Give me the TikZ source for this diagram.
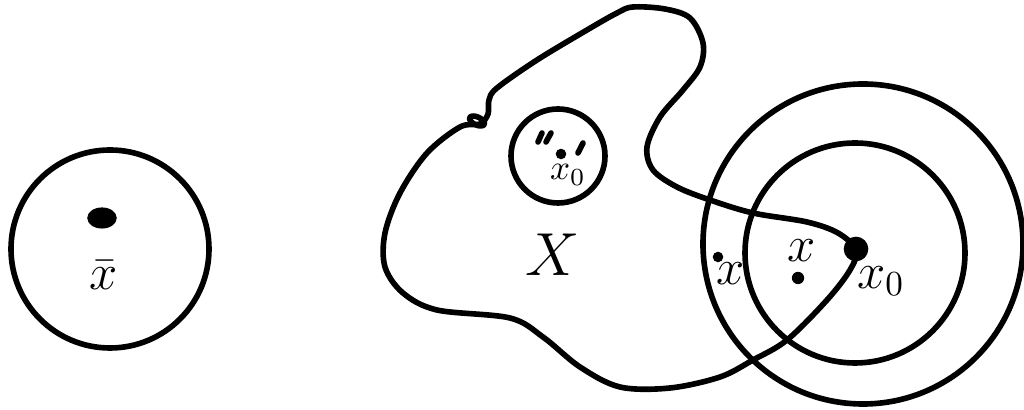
\documentclass[tikz,border=0pt]{standalone}
\usepackage{amsmath}
\usepackage{tikz}
\usetikzlibrary{positioning}
\tikzset{
  trazo/.style={line width=1.6pt, line cap=round, line join=round},
  punto/.style={circle, fill, inner sep=0pt, minimum size=#1},
  etiqueta/.style={font=\Large, inner sep=1pt},
}

\begin{document}
\begin{tikzpicture}[x=0.01cm, y=-0.01cm]
        \useasboundingbox (0,0) rectangle (1024,410);
        % bola sola
        \draw[trazo] (110,249) circle (99);
        \node[punto=6pt, xscale=1.4] (xbar) at (102,218) {};
        \node[etiqueta] (lxbar) at (104,275) {$\bar{x}$};
        % conjunto X
        \draw[trazo] plot[smooth cycle, tension=0.55] coordinates {
          (633,7) (665,9) (690,18) (703,43) (700,67) (683,90) (660,117) (647,147)
          (653,170) (677,187) (710,200) (753,213) (807,222) (838,233) (856,250)
          (850,270) (827,300) (787,340) (753,360) (720,377) (670,388) (620,387)
          (580,367) (543,337) (510,318) (437,310) (403,293) (385,267) (385,233)
          (400,193) (427,153) (460,127) (480,124) (488,114) (489,100)
          (497,88) (537,60) (587,30) (617,13)};
        \draw[trazo, rotate around={-25:(477,121)}] (477,121) ellipse (8 and 4);
        \node[font=\LARGE] (conj) at (553,255) {$X$};
        % bola pequena
        \draw[trazo] (558,156) circle (47);
        \draw[trazo] (538,142) -- (542,133);
        \draw[trazo] (546,142) -- (551,133);
        \draw[trazo] (578,153) -- (583,143);
        \node[punto=3pt] (xcero1) at (561,154) {};
        \node[etiqueta, font=\normalsize] (lxcero1) at (568,175) {$x_0$};
        % bolas concentricas
        \draw[trazo] (863,244) circle (160);
        \draw[trazo] (855,253) circle (110);
        \node[punto=7pt] (xcero) at (856,249) {};
        \node[etiqueta] (lxcero) at (881,281) {$x_0$};
        \node[punto=3pt] (xa) at (718,257) {};
        \node[etiqueta] (lxa) at (731,274) {$x$};
        \node[etiqueta] (lxb) at (802,251) {$x$};
        \node[punto=3.5pt] (xb) at (798,278) {};
    \end{tikzpicture}
\end{document}
